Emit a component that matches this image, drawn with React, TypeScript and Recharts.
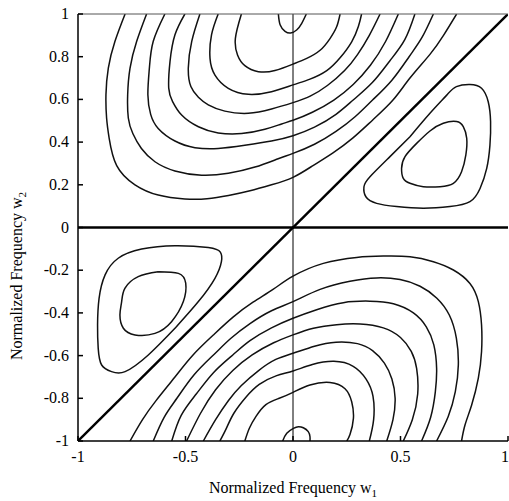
import { LineChart, Line, XAxis, YAxis, Label } from 'recharts';

type Pt = [number, number];

const xTicks = [-1, -0.5, 0, 0.5, 1];
const yTicks = [1, 0.8, 0.6, 0.4, 0.2, 0, -0.2, -0.4, -0.6, -0.8, -1];

// upper-left lobe, contours around (0, 1), innermost first
const aLoop: Pt[] = [[-0.068, 1.0], [-0.06, 0.95], [-0.037, 0.919], [-0.011, 0.911], [0.017, 0.925], [0.04, 0.955], [0.062, 1.0]];
const aCurve1: Pt[] = [[-0.24, 1.0], [-0.268, 0.886], [-0.258, 0.808], [-0.224, 0.758], [-0.161, 0.73], [-0.084, 0.735], [0, 0.765], [0.064, 0.792], [0.126, 0.83], [0.172, 0.885], [0.203, 0.94], [0.219, 1.0]];
const aCurve2: Pt[] = [[-0.348, 1.0], [-0.379, 0.902], [-0.386, 0.792], [-0.363, 0.714], [-0.301, 0.652], [-0.208, 0.624], [-0.1, 0.636], [0, 0.668], [0.079, 0.695], [0.157, 0.735], [0.219, 0.795], [0.273, 0.87], [0.304, 0.941], [0.319, 1.0]];
const aCurve3: Pt[] = [[-0.433, 1.0], [-0.471, 0.872], [-0.487, 0.747], [-0.475, 0.66], [-0.44, 0.61], [-0.394, 0.574], [-0.317, 0.545], [-0.208, 0.535], [-0.1, 0.555], [0, 0.585], [0.08, 0.615], [0.16, 0.665], [0.24, 0.735], [0.3, 0.81], [0.355, 0.9], [0.405, 1.0]];
const aCurve4: Pt[] = [[-0.503, 1.0], [-0.549, 0.903], [-0.572, 0.778], [-0.578, 0.653], [-0.56, 0.59], [-0.518, 0.527], [-0.44, 0.472], [-0.348, 0.443], [-0.239, 0.44], [-0.131, 0.46], [-0.053, 0.485], [0, 0.502], [0.09, 0.54], [0.19, 0.597], [0.28, 0.67], [0.36, 0.76], [0.43, 0.87], [0.49, 1.0]];
const aCurve5: Pt[] = [[-0.596, 1.0], [-0.65, 0.872], [-0.668, 0.747], [-0.675, 0.622], [-0.662, 0.53], [-0.627, 0.464], [-0.549, 0.405], [-0.456, 0.374], [-0.348, 0.37], [-0.224, 0.385], [-0.1, 0.405], [0, 0.43], [0.1, 0.47], [0.2, 0.53], [0.28, 0.597], [0.37, 0.68], [0.45, 0.78], [0.52, 0.88], [0.567, 1.0]];
const aCurve6: Pt[] = [[-0.681, 1.0], [-0.727, 0.872], [-0.758, 0.747], [-0.769, 0.622], [-0.766, 0.513], [-0.745, 0.44], [-0.705, 0.37], [-0.642, 0.308], [-0.549, 0.265], [-0.425, 0.245], [-0.301, 0.254], [-0.177, 0.283], [-0.069, 0.322], [0, 0.347], [0.1, 0.39], [0.2, 0.45], [0.29, 0.52], [0.37, 0.597], [0.46, 0.69], [0.54, 0.8], [0.6, 0.89], [0.653, 1.0]];
const aCurve7: Pt[] = [[-0.781, 1.0], [-0.828, 0.872], [-0.859, 0.747], [-0.87, 0.622], [-0.867, 0.513], [-0.855, 0.418], [-0.82, 0.29], [-0.735, 0.2], [-0.627, 0.152], [-0.503, 0.134], [-0.4, 0.135], [-0.3, 0.15], [-0.2, 0.172], [-0.1, 0.2], [0, 0.235], [0.093, 0.29], [0.186, 0.35], [0.279, 0.42], [0.372, 0.505], [0.465, 0.597], [0.544, 0.7], [0.637, 0.811], [0.7, 0.9], [0.761, 1.0]];

// lower-right lobe, contours around (0, -1)
const dLoop: Pt[] = [[-0.048, -1.0], [-0.029, -0.964], [0.002, -0.941], [0.025, -0.933], [0.048, -0.938], [0.071, -0.956], [0.079, -0.98], [0.079, -1.0]];
const dCurve1: Pt[] = [[-0.224, -1.0], [-0.203, -0.94], [-0.172, -0.885], [-0.126, -0.83], [-0.064, -0.8], [0, -0.772], [0.079, -0.738], [0.172, -0.726], [0.242, -0.755], [0.273, -0.816], [0.281, -0.894], [0.265, -0.97], [0.25, -1.0]];
const dCurve2: Pt[] = [[-0.34, -1.0], [-0.31, -0.941], [-0.275, -0.87], [-0.219, -0.795], [-0.157, -0.735], [-0.079, -0.695], [0, -0.672], [0.09, -0.642], [0.19, -0.627], [0.28, -0.65], [0.34, -0.71], [0.372, -0.79], [0.375, -0.9], [0.355, -1.0]];
const dCurve3: Pt[] = [[-0.417, -1.0], [-0.36, -0.9], [-0.3, -0.81], [-0.24, -0.74], [-0.16, -0.67], [-0.08, -0.618], [0, -0.589], [0.1, -0.556], [0.2, -0.537], [0.3, -0.544], [0.37, -0.577], [0.425, -0.635], [0.46, -0.71], [0.475, -0.8], [0.465, -0.9], [0.436, -1.0]];
const dCurve4: Pt[] = [[-0.495, -1.0], [-0.43, -0.87], [-0.36, -0.76], [-0.28, -0.67], [-0.19, -0.597], [-0.09, -0.54], [0, -0.503], [0.095, -0.472], [0.203, -0.455], [0.312, -0.452], [0.42, -0.47], [0.5, -0.515], [0.55, -0.58], [0.575, -0.66], [0.58, -0.78], [0.555, -0.9], [0.513, -1.0]];
const dCurve5: Pt[] = [[-0.564, -1.0], [-0.52, -0.88], [-0.45, -0.78], [-0.37, -0.68], [-0.28, -0.597], [-0.2, -0.53], [-0.1, -0.47], [0, -0.425], [0.11, -0.385], [0.234, -0.352], [0.358, -0.345], [0.467, -0.357], [0.56, -0.4], [0.62, -0.465], [0.655, -0.55], [0.668, -0.66], [0.662, -0.77], [0.64, -0.89], [0.598, -1.0]];
const dCurve6: Pt[] = [[-0.65, -1.0], [-0.6, -0.89], [-0.54, -0.8], [-0.46, -0.69], [-0.37, -0.597], [-0.29, -0.52], [-0.2, -0.45], [-0.1, -0.39], [0, -0.347], [0.126, -0.29], [0.265, -0.252], [0.389, -0.236], [0.498, -0.244], [0.591, -0.275], [0.668, -0.33], [0.727, -0.41], [0.76, -0.519], [0.769, -0.644], [0.755, -0.769], [0.722, -0.885], [0.668, -1.0]];
const dCurve7: Pt[] = [[-0.758, -1.0], [-0.7, -0.9], [-0.637, -0.811], [-0.549, -0.7], [-0.465, -0.597], [-0.372, -0.505], [-0.279, -0.42], [-0.186, -0.35], [-0.093, -0.29], [0, -0.228], [0.141, -0.168], [0.296, -0.14], [0.42, -0.134], [0.544, -0.137], [0.653, -0.16], [0.746, -0.199], [0.823, -0.262], [0.862, -0.347], [0.877, -0.457], [0.877, -0.581], [0.862, -0.706], [0.831, -0.831], [0.8, -0.925], [0.784, -1.0]];

// small lobes either side of the diagonal
const bOuter: Pt[] = [[0.544, 0.425], [0.637, 0.535], [0.715, 0.62], [0.76, 0.66], [0.823, 0.67], [0.877, 0.652], [0.908, 0.589], [0.919, 0.496], [0.916, 0.386], [0.901, 0.277], [0.87, 0.183], [0.823, 0.121], [0.73, 0.098], [0.606, 0.09], [0.482, 0.098], [0.389, 0.113], [0.339, 0.144], [0.33, 0.191], [0.358, 0.238], [0.451, 0.332], [0.544, 0.425]];
const bInner: Pt[] = [[0.575, 0.394], [0.637, 0.452], [0.699, 0.488], [0.761, 0.496], [0.792, 0.472], [0.808, 0.418], [0.804, 0.34], [0.784, 0.261], [0.746, 0.207], [0.684, 0.191], [0.606, 0.191], [0.544, 0.207], [0.513, 0.23], [0.505, 0.277], [0.521, 0.332], [0.575, 0.394]];
const cOuter: Pt[] = [[-0.549, -0.472], [-0.44, -0.347], [-0.363, -0.238], [-0.333, -0.16], [-0.338, -0.115], [-0.394, -0.094], [-0.549, -0.085], [-0.704, -0.101], [-0.813, -0.144], [-0.874, -0.222], [-0.902, -0.332], [-0.909, -0.457], [-0.906, -0.566], [-0.89, -0.644], [-0.844, -0.675], [-0.781, -0.675], [-0.673, -0.597], [-0.549, -0.472]];
const cInner: Pt[] = [[-0.627, -0.207], [-0.533, -0.215], [-0.499, -0.261], [-0.51, -0.347], [-0.565, -0.441], [-0.642, -0.496], [-0.735, -0.503], [-0.789, -0.472], [-0.805, -0.41], [-0.797, -0.347], [-0.782, -0.285], [-0.72, -0.23], [-0.627, -0.207]];

const zeroLines: Pt[][] = [[[-1, 0], [1, 0]], [[-1, -1], [1, 1]]];
const centerLine: Pt[] = [[0, -1], [0, 1]];

const contours = [
  aLoop, aCurve1, aCurve2, aCurve3, aCurve4, aCurve5, aCurve6, aCurve7,
  dLoop, dCurve1, dCurve2, dCurve3, dCurve4, dCurve5, dCurve6, dCurve7,
  bOuter, bInner, cOuter, cInner,
];

const rows = (pts: Pt[]) => pts.map(([x, y]) => ({ x, y }));

const font = '"Liberation Serif", "Times New Roman", serif';

// tick labels drawn by hand so the serif face sticks
const XTick = (props: any) => (
  <text x={props.x} y={props.y} dy={12} textAnchor="middle" fontSize={16} fontFamily={font} fill="#000">
    {props.payload.value}
  </text>
);
const YTick = (props: any) => (
  <text x={props.x} y={props.y} dy={5} textAnchor="end" fontSize={16} fontFamily={font} fill="#000">
    {props.payload.value}
  </text>
);
const NoTick = () => <g />;

export default function App() {
  return (
    <div style={{ position: 'absolute', left: 0, top: 0, background: '#fff', fontFamily: font }}>
      <LineChart width={509} height={501} margin={{ top: 0, right: 0, bottom: 0, left: 0 }}>
        <XAxis
          dataKey="x"
          type="number"
          domain={[-1, 1]}
          ticks={xTicks}
          allowDataOverflow
          height={60}
          stroke="#000"
          strokeWidth={1.5}
          tickSize={-5}
          tickMargin={14}
          tick={XTick}
        >
          <Label
            content={() => (
              <text x={293} y={493} textAnchor="middle" fontSize={16} fontFamily={font} fill="#000">
                Normalized Frequency w<tspan dy={4} fontSize={11}>1</tspan>
              </text>
            )}
          />
        </XAxis>
        <XAxis
          xAxisId="top"
          orientation="top"
          type="number"
          domain={[-1, 1]}
          height={14}
          stroke="#555"
          tick={false}
          tickLine={false}
        />
        <YAxis
          type="number"
          domain={[-1, 1]}
          ticks={yTicks}
          allowDataOverflow
          width={78}
          stroke="#000"
          strokeWidth={1.5}
          tickSize={-5}
          tickMargin={14}
          tick={YTick}
        >
          <Label
            content={() => (
              <text
                x={22}
                y={276}
                transform="rotate(-90 22 276)"
                textAnchor="middle"
                fontSize={16}
                fontFamily={font}
                fill="#000"
              >
                Normalized Frequency w<tspan dy={4} fontSize={11}>2</tspan>
              </text>
            )}
          />
        </YAxis>
        <YAxis
          yAxisId="right"
          orientation="right"
          type="number"
          domain={[-1, 1]}
          ticks={yTicks}
          width={1}
          axisLine={false}
          stroke="#000"
          tickSize={-5}
          tick={NoTick}
        />
        <Line
          data={rows(centerLine)}
          dataKey="y"
          type="linear"
          stroke="#000"
          strokeWidth={1}
          dot={false}
          activeDot={false}
          isAnimationActive={false}
        />
        {zeroLines.map((z, i) => (
          <Line
            key={'z' + i}
            data={rows(z)}
            dataKey="y"
            type="linear"
            stroke="#000"
            strokeWidth={2.4}
            dot={false}
            activeDot={false}
            isAnimationActive={false}
          />
        ))}
        {contours.map((c, i) => (
          <Line
            key={'c' + i}
            data={rows(c)}
            dataKey="y"
            type="natural"
            stroke="#111"
            strokeWidth={1.5}
            dot={false}
            activeDot={false}
            isAnimationActive={false}
          />
        ))}
      </LineChart>
    </div>
  );
}
